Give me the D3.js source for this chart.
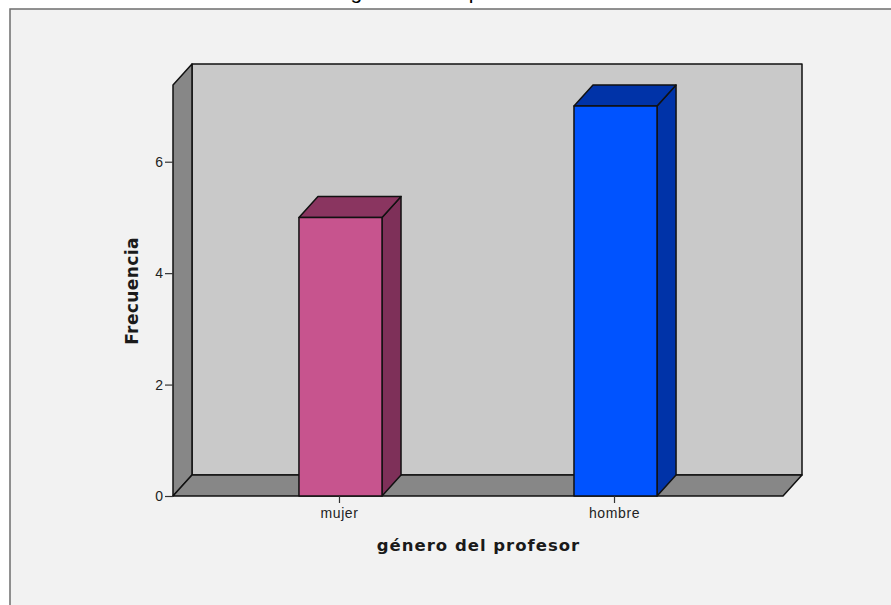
<!DOCTYPE html>
<html>
<head>
<meta charset="utf-8">
<script src="https://cdn.jsdelivr.net/npm/d3@7"></script>
<style>
  html, body { margin: 0; padding: 0; background: #fff; }
  svg { display: block; }
  text { font-family: "DejaVu Sans", sans-serif; fill: #1a1a1a; }
  .tick text { font-family: "Liberation Sans", sans-serif; }
</style>
</head>
<body>
<div id="chart"></div>
<script>
var categories = ["mujer", "hombre"];
var frequencies = [5, 7];
var frontColors = ["#c7548e", "#0053ff"];
var topColors = ["#8a3560", "#0033a8"];
var sideColors = ["#7e3059", "#0033a8"];
var yTicks = [0, 2, 4, 6];

var width = 891, height = 605;
var depthX = 19, depthY = -21;

var svg = d3.select("#chart").append("svg")
  .attr("width", width).attr("height", height);

// title sits mostly above the crop, only the descenders show
svg.append("text")
  .attr("x", 453).attr("y", -1)
  .attr("text-anchor", "middle")
  .attr("font-size", 21).attr("letter-spacing", 1.2)
  .style("font-family", "Liberation Sans")
  .style("fill", "#000")
  .text("género del profesor");

// outer panel, cut off by the window on the right and at the bottom
svg.append("rect")
  .attr("x", 10).attr("y", 9)
  .attr("width", width + 20).attr("height", height + 20)
  .attr("fill", "#f2f2f2").attr("stroke", "#6e6e6e").attr("stroke-width", 1.5);

var x = d3.scaleBand().domain(categories)
  .range([173, 783]).paddingInner(0.698).paddingOuter(0.458);
var y = d3.scaleLinear().domain([0, 7]).range([496, 106]);

var x0 = x.range()[0], x1 = x.range()[1];
var y0 = y(0), yTop = 85;

function poly(points, fill) {
  return svg.append("polygon")
    .attr("points", points.map(function(p){ return p.join(","); }).join(" "))
    .attr("fill", fill)
    .attr("stroke", "#111").attr("stroke-width", 1.5)
    .attr("stroke-linejoin", "round");
}

// 3d box: back wall, left wall, floor
poly([[x0 + depthX, yTop + depthY], [x1 + depthX, yTop + depthY], [x1 + depthX, y0 + depthY], [x0 + depthX, y0 + depthY]], "#c9c9c9");
poly([[x0, yTop], [x0 + depthX, yTop + depthY], [x0 + depthX, y0 + depthY], [x0, y0]], "#878787");
poly([[x0, y0], [x0 + depthX, y0 + depthY], [x1 + depthX, y0 + depthY], [x1, y0]], "#878787");

// bars
categories.forEach(function(c, i) {
  var l = x(c), r = l + x.bandwidth(), t = y(frequencies[i]);
  poly([[r, t], [r + depthX, t + depthY], [r + depthX, y0 + depthY], [r, y0]], sideColors[i]);
  poly([[l, t], [l + depthX, t + depthY], [r + depthX, t + depthY], [r, t]], topColors[i]);
  poly([[l, t], [r, t], [r, y0], [l, y0]], frontColors[i]);
});

// axes
var yAxis = svg.append("g")
  .attr("transform", "translate(" + x0 + ",0)")
  .call(d3.axisLeft(y).tickValues(yTicks).tickSize(8).tickPadding(2).tickFormat(d3.format("d")));
yAxis.select(".domain").remove();
yAxis.selectAll("line").attr("stroke", "#333").attr("stroke-width", 1.2);
yAxis.selectAll("text").attr("font-size", 14).style("fill", "#222");

var xAxis = svg.append("g")
  .attr("transform", "translate(-1," + y0 + ")")
  .call(d3.axisBottom(x).tickSize(7).tickPadding(5));
xAxis.select(".domain").remove();
xAxis.selectAll("line").attr("stroke", "#333").attr("stroke-width", 1.2);
xAxis.selectAll("text").attr("font-size", 14).style("letter-spacing", "0.6px").style("fill", "#222");

// axis titles
svg.append("text")
  .attr("x", 478.5).attr("y", 551)
  .attr("text-anchor", "middle")
  .attr("font-size", 16.5).attr("font-weight", "bold").attr("letter-spacing", 1)
  .text("género del profesor");

svg.append("text")
  .attr("transform", "translate(138,291) rotate(-90)")
  .attr("text-anchor", "middle")
  .attr("font-size", 17).attr("font-weight", "bold").attr("letter-spacing", 0.4)
  .text("Frecuencia");
</script>
</body>
</html>
